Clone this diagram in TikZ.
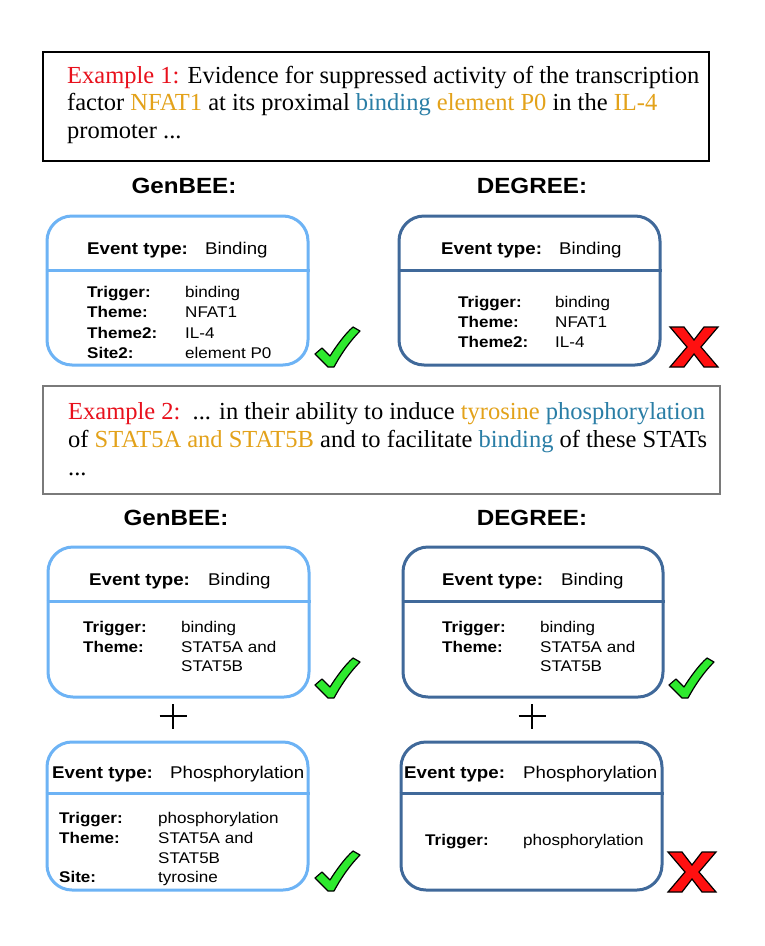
\documentclass[tikz,border=0pt]{standalone}
\usepackage{fontspec}
\setmainfont{Liberation Serif}
\newfontfamily\boxsans[FakeStretch=1.1]{Liberation Sans}

\definecolor{exred}{HTML}{E8101C}
\definecolor{exgold}{HTML}{E3A21A}
\definecolor{exblue}{HTML}{2A7EA6}
\definecolor{lightframe}{HTML}{6DB3F5}
\definecolor{darkframe}{HTML}{40699A}
\definecolor{tickgreen}{HTML}{2EEA2E}
\definecolor{crossred}{HTML}{FF1010}
\definecolor{framegray}{HTML}{7A7A7A}

\tikzset{
  textframe/.style={draw=#1, line width=1.5pt, inner sep=0pt},
  prose/.style={anchor=base west, inner sep=0pt, font=\fontsize{24.5}{28}\selectfont},
  heading/.style={anchor=base, inner sep=0pt, font=\boxsans\fontsize{22}{26}\selectfont\bfseries},
  eventbox/.style={draw=#1, line width=3pt, rounded corners=25pt, inner sep=0pt},
  divider/.style={draw=#1, line width=3pt},
  evlabel/.style={anchor=base west, inner sep=0pt, font=\boxsans\fontsize{17}{20}\selectfont\bfseries},
  evvalue/.style={anchor=base west, inner sep=0pt, font=\boxsans\fontsize{17}{20}\selectfont},
  fieldname/.style={anchor=base west, inner sep=0pt, font=\boxsans\fontsize{15.5}{19}\selectfont\bfseries},
  fieldvalue/.style={anchor=base west, inner sep=0pt, font=\boxsans\fontsize{15.5}{19}\selectfont},
  plusbar/.style={line width=2.5pt},
  tick/.pic={
    \filldraw[fill=tickgreen, draw=black, line width=1.2pt, line join=round]
      (0,27) -- (7,21) -- (15,29)
      .. controls (22,18) and (30,7) .. (38,0)
      -- (45,4)
      .. controls (35,14) and (26,27) .. (19,40)
      -- (13,40) -- cycle;
  },
  cross/.pic={
    \filldraw[fill=crossred, draw=black, line width=1.2pt, line join=miter]
      (0,0) -- (14,0) -- (24,13) -- (34,0) -- (48,0) -- (31,20)
      -- (48,40) -- (34,40) -- (24,27) -- (14,40) -- (0,40) -- (17,20) -- cycle;
  }
}

\begin{document}
\begin{tikzpicture}[x=1pt, y=-1pt]
  \useasboundingbox (0,0) rectangle (764,946);
  \fill[white] (0,0) rectangle (764,946);

  % ---------- Example 1 ----------
  \node[textframe=black, minimum width=666, minimum height=109] (ex1) at (376,106.5) {};
  \node[prose] (ex1a) at (67,83) {\textcolor{exred}{Example 1:} Evidence for suppressed activity of the transcription};
  \node[prose] (ex1b) at (67,110.5) {factor \textcolor{exgold}{NFAT1} at its proximal \textcolor{exblue}{binding} \textcolor{exgold}{element P0} in the \textcolor{exgold}{IL-4}};
  \node[prose] (ex1c) at (67,138) {promoter ...};

  \node[heading] (h1g) at (184,193) {GenBEE:};
  \node[heading] (h1d) at (532,193) {DEGREE:};

  % GenBEE, example 1
  \node[eventbox=lightframe, minimum width=261, minimum height=149] (a1) at (177.5,290.5) {};
  \draw[divider=lightframe] (a1.west |- 0,270) -- (a1.east |- 0,270);
  \node[evlabel] (a1et) at (87,254) {Event type:};
  \node[evvalue] (a1ev) at (205,254) {Binding};
  \node[fieldname] (a1n1) at (87,297) {Trigger:};
  \node[fieldvalue] (a1v1) at (185,297) {binding};
  \node[fieldname] (a1n2) at (87,317.5) {Theme:};
  \node[fieldvalue] (a1v2) at (185,317.5) {NFAT1};
  \node[fieldname] (a1n3) at (87,338) {Theme2:};
  \node[fieldvalue] (a1v3) at (185,338) {IL-4};
  \node[fieldname] (a1n4) at (87,358) {Site2:};
  \node[fieldvalue] (a1v4) at (185,358) {element P0};
  \pic at (315,327) {tick};

  % DEGREE, example 1
  \node[eventbox=darkframe, minimum width=261, minimum height=149] (b1) at (529.5,290.5) {};
  \draw[divider=darkframe] (b1.west |- 0,270) -- (b1.east |- 0,270);
  \node[evlabel] (b1et) at (441,254) {Event type:};
  \node[evvalue] (b1ev) at (559,254) {Binding};
  \node[fieldname] (b1n1) at (458,307) {Trigger:};
  \node[fieldvalue] (b1v1) at (555,307) {binding};
  \node[fieldname] (b1n2) at (458,327.5) {Theme:};
  \node[fieldvalue] (b1v2) at (555,327.5) {NFAT1};
  \node[fieldname] (b1n3) at (458,347.5) {Theme2:};
  \node[fieldvalue] (b1v3) at (555,347.5) {IL-4};
  \pic at (670,327) {cross};

  % ---------- Example 2 ----------
  \node[textframe=framegray, minimum width=677, minimum height=108] (ex2) at (381.5,440) {};
  \node[prose] (ex2a) at (68,419) {\textcolor{exred}{Example 2:}\ \ ... in their ability to induce \textcolor{exgold}{tyrosine} \textcolor{exblue}{phosphorylation}};
  \node[prose] (ex2b) at (68,447) {of \textcolor{exgold}{STAT5A and STAT5B} and to facilitate \textcolor{exblue}{binding} of these STATs};
  \node[prose] (ex2c) at (68,475) {...};

  \node[heading] (h2g) at (176,525) {GenBEE:};
  \node[heading] (h2d) at (532,525) {DEGREE:};

  % GenBEE, example 2, binding event
  \node[eventbox=lightframe, minimum width=261, minimum height=150] (a2) at (178.5,622) {};
  \draw[divider=lightframe] (a2.west |- 0,601) -- (a2.east |- 0,601);
  \node[evlabel] (a2et) at (89,585) {Event type:};
  \node[evvalue] (a2ev) at (208,585) {Binding};
  \node[fieldname] (a2n1) at (83,632) {Trigger:};
  \node[fieldvalue] (a2v1) at (181,632) {binding};
  \node[fieldname] (a2n2) at (83,652) {Theme:};
  \node[fieldvalue] (a2v2) at (181,652) {STAT5A and};
  \node[fieldvalue] (a2v3) at (181,671.5) {STAT5B};
  \pic at (315,658) {tick};

  % DEGREE, example 2, binding event
  \node[eventbox=darkframe, minimum width=260, minimum height=150] (b2) at (533,622) {};
  \draw[divider=darkframe] (b2.west |- 0,601) -- (b2.east |- 0,601);
  \node[evlabel] (b2et) at (442,585) {Event type:};
  \node[evvalue] (b2ev) at (561,585) {Binding};
  \node[fieldname] (b2n1) at (442,632) {Trigger:};
  \node[fieldvalue] (b2v1) at (540,632) {binding};
  \node[fieldname] (b2n2) at (442,652) {Theme:};
  \node[fieldvalue] (b2v2) at (540,652) {STAT5A and};
  \node[fieldvalue] (b2v3) at (540,671.5) {STAT5B};
  \pic at (669,658) {tick};

  % plus signs between the two events
  \coordinate (p1) at (173,716);
  \coordinate (p2) at (532,716);
  \draw[plusbar] ([xshift=-13.5pt]p1) -- ([xshift=13.5pt]p1);
  \draw[plusbar] ([yshift=-12.5pt]p1) -- ([yshift=12.5pt]p1);
  \draw[plusbar] ([xshift=-13.5pt]p2) -- ([xshift=13.5pt]p2);
  \draw[plusbar] ([yshift=-12.5pt]p2) -- ([yshift=12.5pt]p2);

  % GenBEE, example 2, phosphorylation event
  \node[eventbox=lightframe, minimum width=261, minimum height=148] (a3) at (177.5,816) {};
  \draw[divider=lightframe] (a3.west |- 0,793) -- (a3.east |- 0,793);
  \node[evlabel] (a3et) at (52,778) {Event type:};
  \node[evvalue] (a3ev) at (170,778) {Phosphorylation};
  \node[fieldname] (a3n1) at (59,823) {Trigger:};
  \node[fieldvalue] (a3v1) at (158,823) {phosphorylation};
  \node[fieldname] (a3n2) at (59,843) {Theme:};
  \node[fieldvalue] (a3v2) at (158,843) {STAT5A and};
  \node[fieldvalue] (a3v3) at (158,863) {STAT5B};
  \node[fieldname] (a3n4) at (59,882) {Site:};
  \node[fieldvalue] (a3v4) at (158,882) {tyrosine};
  \pic at (315,851) {tick};

  % DEGREE, example 2, phosphorylation event
  \node[eventbox=darkframe, minimum width=261, minimum height=148] (b3) at (531.5,816) {};
  \draw[divider=darkframe] (b3.west |- 0,793) -- (b3.east |- 0,793);
  \node[evlabel] (b3et) at (404,778) {Event type:};
  \node[evvalue] (b3ev) at (523,778) {Phosphorylation};
  \node[fieldname] (b3n1) at (425,845) {Trigger:};
  \node[fieldvalue] (b3v1) at (523,845) {phosphorylation};
  \pic at (668,852) {cross};
\end{tikzpicture}
\end{document}
